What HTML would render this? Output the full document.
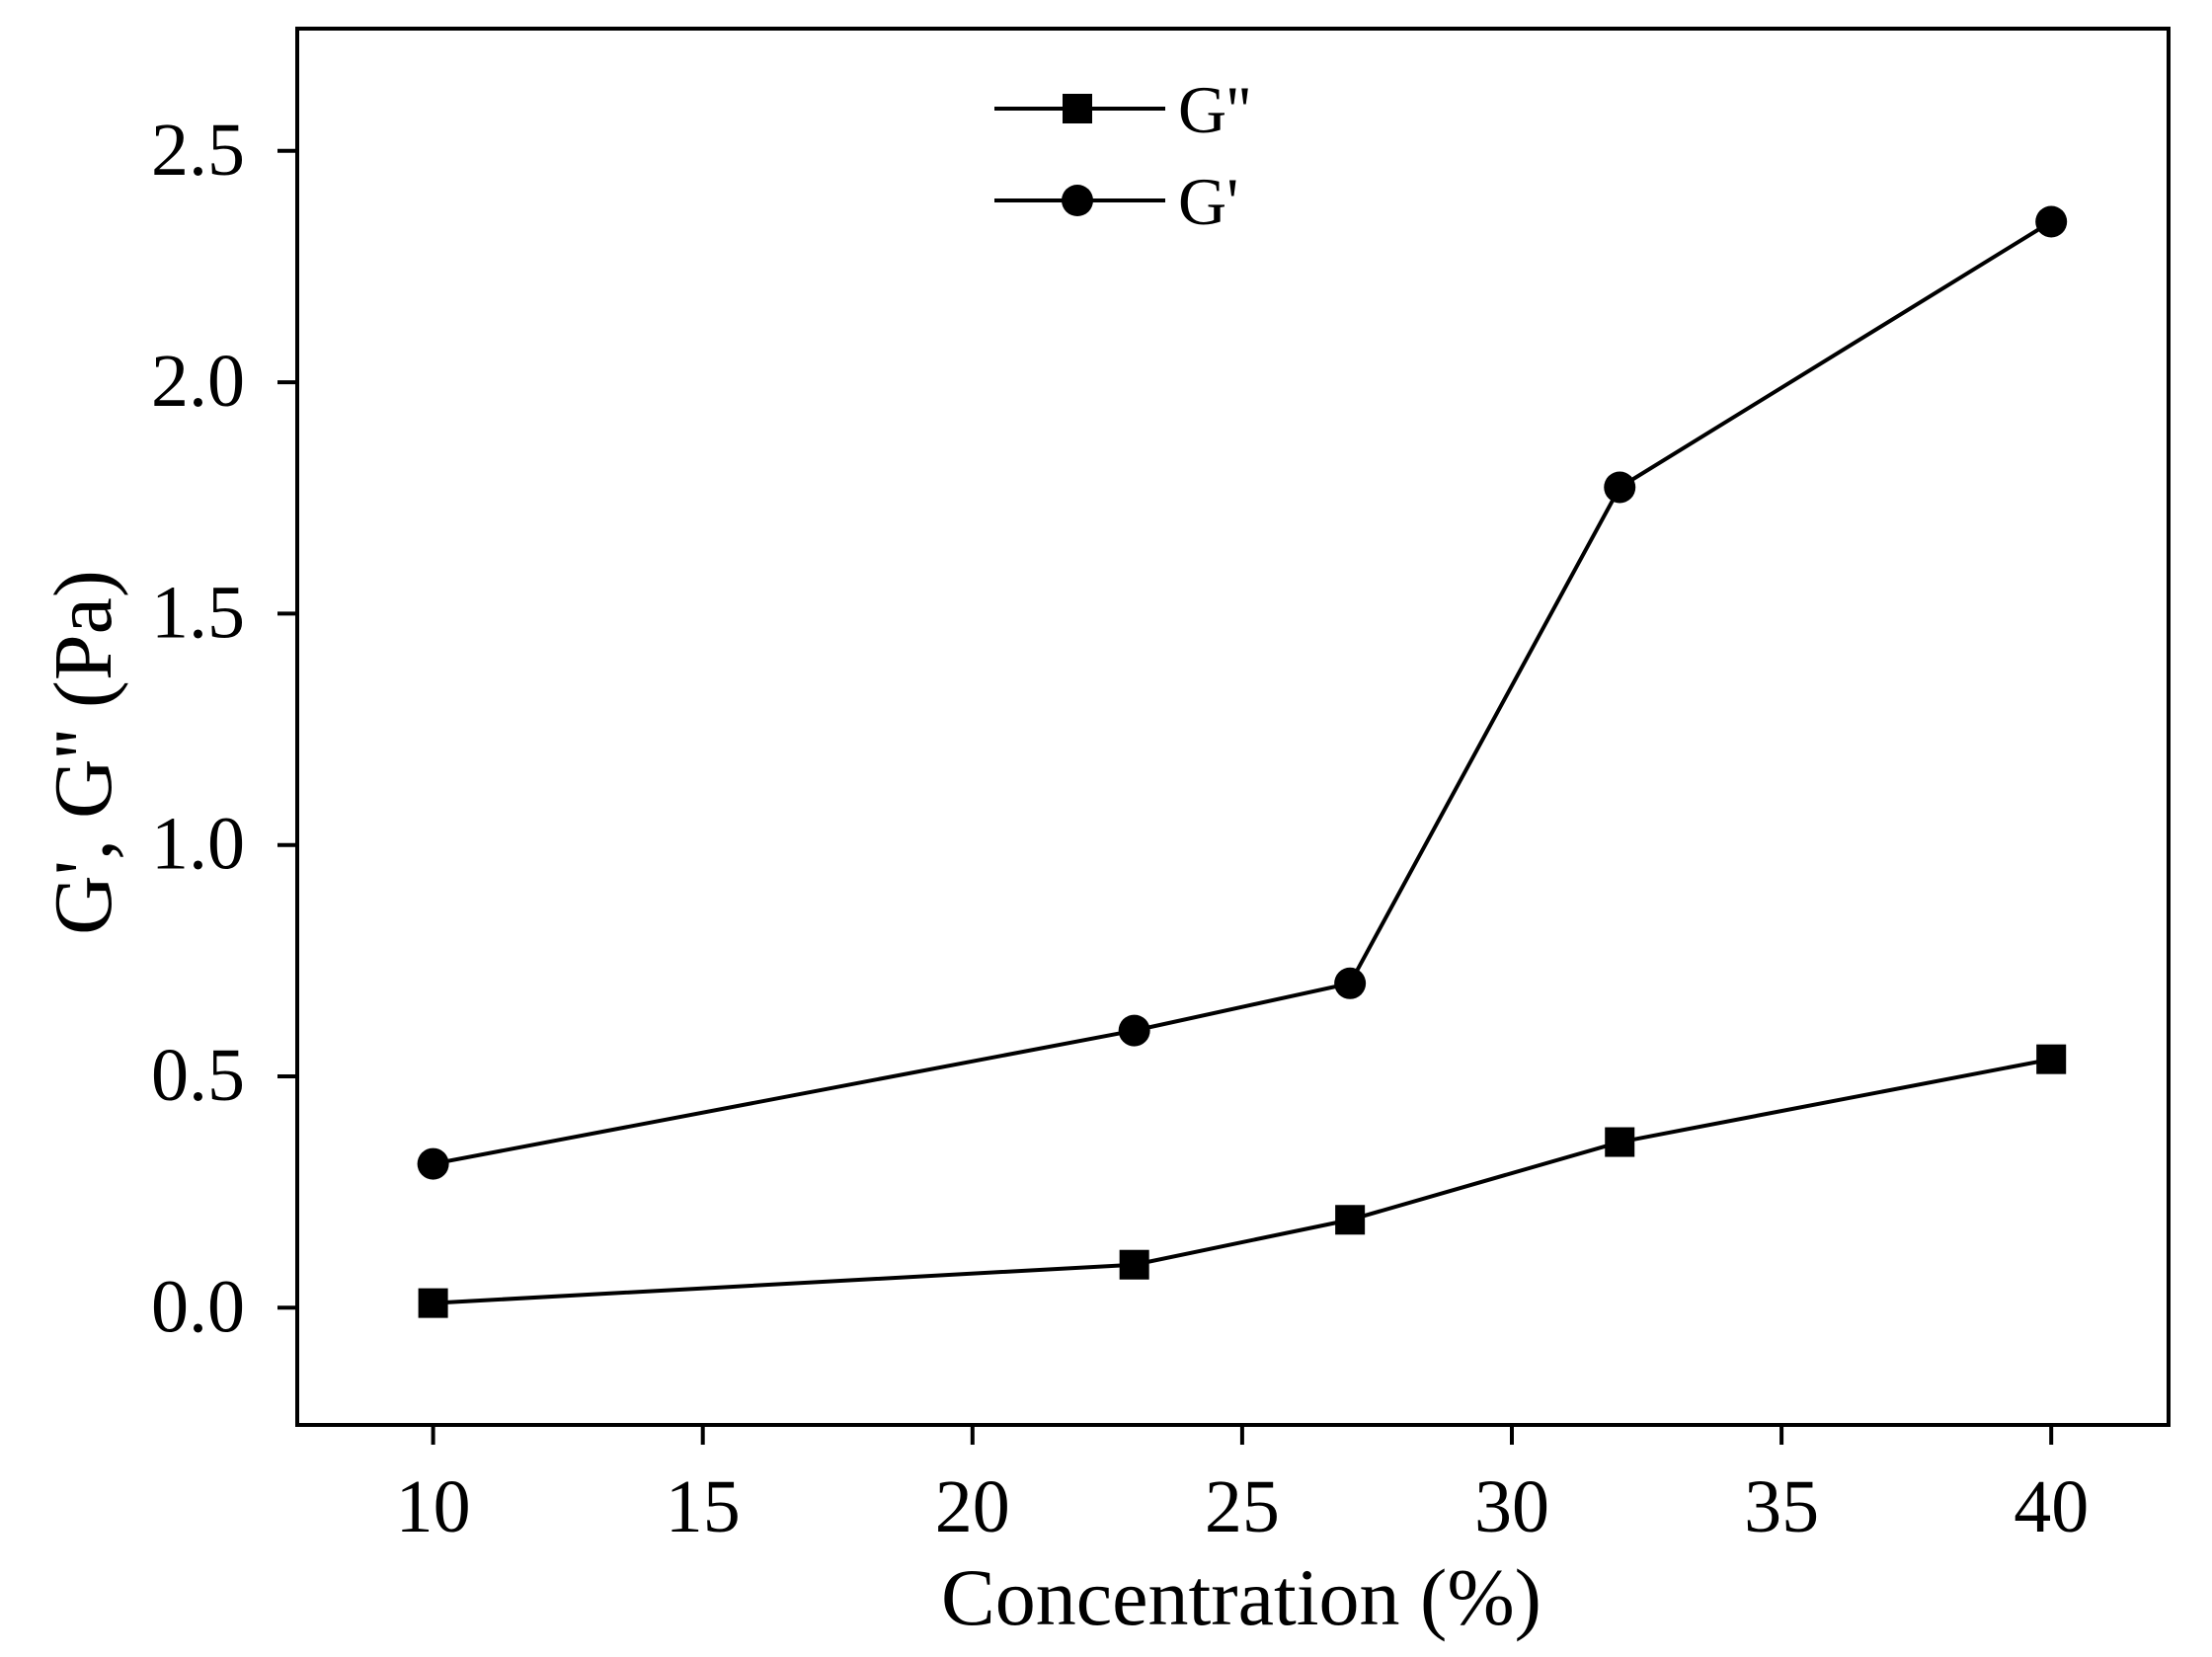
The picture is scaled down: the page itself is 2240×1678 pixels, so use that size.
<!DOCTYPE html>
<html><head><meta charset="utf-8"><style>html,body{margin:0;padding:0;background:#fff}svg{display:block}text{font-family:"Liberation Serif",serif;fill:#000}</style></head>
<body>
<svg id="chart" width="2240" height="1678" viewBox="0 0 2240 1678" xmlns="http://www.w3.org/2000/svg">
<g id="plot"></g>
</svg>
<script>
const categories = [10, 23, 27, 32, 40];
const gDoublePrime = [0.01, 0.093, 0.19, 0.358, 0.537];
const gPrime = [0.311, 0.599, 0.701, 1.773, 2.347];
const xTicks = [10, 15, 20, 25, 30, 35, 40];
const yTicks = [0.0, 0.5, 1.0, 1.5, 2.0, 2.5];
const yTickLabels = ["0.0", "0.5", "1.0", "1.5", "2.0", "2.5"];

const L = 301, R = 2196, T = 29, B = 1443;
function xs(v){ return 438.6 + (v - 10) * 54.62; }
function ys(v){ return 1324.3 - v * 468.6; }
const NS = "http://www.w3.org/2000/svg";
const g = document.getElementById('plot');
function mk(tag, attrs, parent){ const e = document.createElementNS(NS, tag); for (const k in attrs) e.setAttribute(k, attrs[k]); (parent||g).appendChild(e); return e; }

const frame = mk('rect', {x:L, y:T, width:R-L, height:B-T, fill:'none', stroke:'#000', 'stroke-width':4});



xTicks.forEach(v => {
  const t = mk('line', {x1:xs(v), x2:xs(v), y1:B, y2:B+20, stroke:'#000', 'stroke-width':4});
  
  
  const lb = mk('text', {x:xs(v), y:1551, 'font-size':76, 'text-anchor':'middle'});
  lb.textContent = v;
  
  
});
yTicks.forEach((v, i) => {
  const t = mk('line', {x1:L-20, x2:L, y1:ys(v), y2:ys(v), stroke:'#000', 'stroke-width':4});
  
  
  const lb = mk('text', {x:248, y:ys(v)+24, 'font-size':76, 'text-anchor':'end'});
  lb.textContent = yTickLabels[i];
  
  
});

const xt = mk('text', {x:1257, y:1645, 'font-size':82, 'text-anchor':'middle'});
xt.textContent = 'Concentration (%)';


const yt = mk('text', {x:0, y:0, 'font-size':84, 'text-anchor':'middle', transform:'translate(112,762) rotate(-90)'});
yt.textContent = "G', G'' (Pa)";



function series(vals, name, shape){
  const pts = categories.map((c,i) => xs(c)+','+ys(vals[i])).join(' ');
  const pl = mk('polyline', {points:pts, fill:'none', stroke:'#000', 'stroke-width':4});
  
  
  categories.forEach((c,i) => {
    let m;
    if (shape === 'square') m = mk('rect', {x:xs(c)-15, y:ys(vals[i])-15, width:30, height:30, fill:'#000'});
    else m = mk('circle', {cx:xs(c), cy:ys(vals[i]), r:16, fill:'#000'});
    
    
  });
}
series(gDoublePrime, 'g-double-prime', 'square');
series(gPrime, 'g-prime', 'circle');

function legend(y, name, shape, label){
  const ln = mk('line', {x1:1007, x2:1180, y1:y, y2:y, stroke:'#000', 'stroke-width':4});
  
  
  let m;
  if (shape === 'square') m = mk('rect', {x:1076, y:y-15, width:30, height:30, fill:'#000'});
  else m = mk('circle', {cx:1091, cy:y, r:16, fill:'#000'});
  
  
  const t = mk('text', {x:1193, y:y+24, 'font-size':68});
  t.textContent = label;
  
  
}
legend(110, 'legend-g-double-prime', 'square', "G''");
legend(203, 'legend-g-prime', 'circle', "G'");
</script>
</body></html>
